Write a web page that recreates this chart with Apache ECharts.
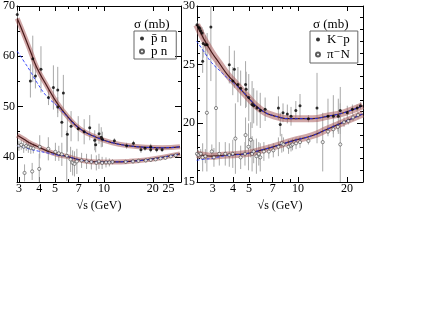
<!DOCTYPE html>
<html>
<head>
<meta charset="utf-8">
<script src="https://cdn.jsdelivr.net/npm/echarts@6/dist/echarts.min.js"></script>
<style>
html, body { margin: 0; padding: 0; background: #fff; }
#chart { width: 431px; height: 333px; }
</style>
</head>
<body>
<div id="chart"></div>
<script>
// [sqrt(s) GeV, sigma mb, error mb]
const pbarn = [
  [2.93, 68.3, 0.8], [3.53, 55.1, 3.3], [3.65, 59.5, 4.6], [3.79, 56.1, 2.5], [4.10, 57.4, 4.6],
  [4.56, 51.8, 1.5], [4.89, 53.8, 4.4], [5.20, 53.3, 4.6], [5.20, 49.9, 2.0], [5.51, 46.9, 3.0],
  [5.63, 52.7, 3.6], [5.96, 44.5, 3.5], [6.28, 46.1, 3.0], [6.95, 45.6, 2.5], [7.56, 45.0, 2.5],
  [8.18, 45.8, 2.5], [8.78, 43.3, 2.0], [8.90, 42.4, 1.5], [9.33, 44.6, 2.0], [9.63, 43.9, 2.0],
  [9.80, 43.5, 1.5], [11.6, 43.2, 0.5], [13.8, 42.2, 0.6], [15.2, 42.7, 0.5], [16.9, 41.4, 0.6],
  [17.9, 41.7, 0.5], [19.4, 42.0, 0.6], [19.4, 41.4, 0.5], [21.1, 41.4, 0.5], [22.8, 41.4, 0.4]
];
const pn = [
  [2.90, 42.7, 1.0], [3.00, 42.2, 1.0], [3.10, 42.4, 1.0], [3.21, 42.0, 1.2], [3.25, 36.8, 1.7],
  [3.33, 42.2, 1.0], [3.43, 42.0, 1.2], [3.55, 41.8, 1.2], [3.62, 37.1, 1.7], [3.68, 41.7, 1.0],
  [4.00, 37.6, 3.0], [4.03, 42.0, 2.3], [4.55, 41.6, 2.3], [5.03, 41.0, 1.8], [5.28, 40.7, 1.5],
  [5.51, 40.5, 2.3], [5.91, 40.2, 5.0], [6.24, 39.5, 2.5], [6.42, 38.8, 2.5], [6.59, 38.6, 2.5],
  [6.82, 39.1, 2.5], [7.29, 39.3, 1.5], [7.82, 39.1, 1.5], [8.37, 39.0, 1.5], [8.98, 38.8, 1.5],
  [9.32, 39.1, 1.5], [9.75, 38.8, 1.2], [10.3, 38.9, 1.0], [10.8, 38.9, 0.8], [11.3, 39.0, 0.5],
  [13.6, 39.0, 0.4], [15.1, 39.1, 0.4], [16.3, 39.2, 0.4], [18.1, 39.3, 0.4], [19.4, 39.4, 0.4],
  [20.8, 39.5, 0.3], [22.3, 39.7, 0.3], [23.9, 39.8, 0.3], [25.8, 40.1, 0.3], [27.6, 40.3, 0.3]
];
const kmp = [
  [2.40, 28.4, 0.3], [2.45, 28.2, 0.3], [2.49, 28.1, 0.3], [2.53, 27.9, 0.4], [2.58, 27.7, 0.5],
  [2.60, 25.3, 1.0], [2.62, 26.8, 1.2], [2.70, 26.7, 0.8], [2.77, 26.7, 1.0], [2.92, 28.2, 4.6],
  [3.79, 25.0, 1.6], [3.98, 23.6, 1.2], [4.07, 24.6, 1.6], [4.28, 23.3, 1.5], [4.45, 23.0, 1.5],
  [4.77, 23.3, 2.0], [4.81, 22.9, 1.5], [4.99, 22.2, 2.0], [5.23, 21.6, 2.0], [5.35, 21.5, 1.5],
  [5.60, 21.3, 1.5], [5.87, 21.1, 1.5], [6.29, 21.2, 1.0], [7.59, 21.3, 1.0], [7.79, 19.9, 1.0],
  [8.10, 20.9, 0.8], [8.61, 20.8, 0.8], [9.07, 20.6, 0.8], [9.71, 21.1, 0.8], [10.3, 21.5, 1.0],
  [11.6, 20.4, 0.3], [13.1, 21.3, 3.0], [15.3, 20.6, 1.5], [16.5, 20.6, 1.8], [17.7, 20.6, 1.5],
  [18.2, 21.1, 2.0], [20.1, 20.9, 0.6], [21.6, 21.2, 0.4], [23.1, 21.3, 0.3], [24.2, 21.5, 0.3]
];
const pimN = [
  [2.40, 17.4, 0.4], [2.45, 17.3, 0.4], [2.53, 17.4, 0.4], [2.60, 17.1, 1.2], [2.70, 17.2, 0.6],
  [2.76, 20.9, 5.0], [2.96, 17.6, 0.6], [3.05, 17.1, 0.8], [3.14, 21.3, 4.0], [3.29, 17.4, 1.0],
  [3.58, 17.4, 1.0], [3.79, 17.3, 1.0], [3.98, 17.4, 1.2], [4.13, 18.7, 3.0], [4.45, 17.1, 1.0],
  [4.73, 17.4, 1.0], [4.77, 19.0, 1.5], [4.97, 18.0, 2.0], [5.13, 18.6, 1.5], [5.23, 17.4, 1.5],
  [5.35, 17.6, 1.0], [5.56, 17.2, 1.5], [5.75, 17.4, 1.0], [5.87, 17.1, 1.2], [6.18, 17.6, 0.8],
  [6.63, 17.6, 0.6], [7.06, 17.7, 0.6], [7.59, 18.0, 0.8], [7.96, 18.3, 0.8], [8.15, 18.2, 0.6],
  [8.76, 18.0, 0.6], [9.07, 18.1, 0.5], [9.27, 18.2, 0.5], [9.74, 18.3, 0.5], [10.3, 18.4, 0.5],
  [11.6, 18.5, 0.3], [14.2, 18.4, 2.5], [15.3, 19.3, 0.4], [16.5, 19.5, 0.4], [17.6, 19.7, 0.4],
  [18.2, 18.2, 3.5], [19.2, 20.1, 0.4], [20.4, 20.2, 0.3], [21.8, 20.5, 0.3], [23.4, 20.7, 0.3]
];

// fitted curves: band centre and blue dashed curve, read at these sqrt(s)
const curveSL = [2.93, 3.22, 3.53, 3.87, 4.46, 5.13, 5.91, 7.11, 8.97, 11.3, 14.3, 18.1, 22.8, 29.4];
const pbarnFit = [67.5, 64.3, 61.0, 57.7, 54.1, 50.8, 48.2, 45.6, 43.9, 42.8, 42.2, 41.9, 41.8, 42.0];
const pbarnBlue = [61.0, 59.0, 57.0, 54.8, 52.0, 50.2, 48.1, 45.6, 43.9, 42.8, 42.2, 41.9, 41.8, 42.0];
const pnFit = [44.3, 43.5, 42.7, 42.1, 41.2, 40.5, 40.1, 39.4, 39.0, 39.0, 39.1, 39.4, 39.9, 40.6];
const pnBlue = [42.2, 41.9, 41.5, 41.2, 40.8, 40.4, 40.1, 39.4, 39.0, 39.0, 39.1, 39.4, 39.9, 40.6];

const curveSR = [2.39, 2.62, 2.94, 3.30, 3.67, 4.20, 4.73, 5.87, 7.30, 9.27, 12.3, 15.1, 19.1, 25.0];
const kmpFit = [28.4, 27.3, 26.1, 25.1, 24.2, 23.3, 22.5, 21.2, 20.6, 20.4, 20.4, 20.6, 20.9, 21.5];
const kmpBlue = [27.0, 26.2, 25.2, 24.5, 23.9, 23.2, 22.5, 21.2, 20.6, 20.4, 20.4, 20.6, 20.9, 21.5];
const pimNFit = [17.36, 17.28, 17.2, 17.25, 17.3, 17.35, 17.4, 17.7, 18.06, 18.5, 18.96, 19.5, 20.1, 20.8];
const pimNBlue = [16.85, 16.93, 17.0, 17.15, 17.25, 17.33, 17.4, 17.7, 18.06, 18.5, 18.96, 19.5, 20.1, 20.8];

// axis ticks
const xLabelsL = [3, 4, 5, 7, 10, 20, 25];
const xLabelsR = [3, 4, 5, 7, 10, 20];
const xMinor = [6, 8, 9];
const yMajorL = [40, 50, 60, 70];
const yMinorL = [35, 45, 55, 65];
const yMajorR = [15, 20, 25, 30];
const yMinorR = [16, 17, 18, 19, 21, 22, 23, 24, 26, 27, 28, 29];

const FONT = 'Liberation Serif, Times New Roman, DejaVu Serif, serif';
const lg = v => Math.log10(v);
const black = {color: '#000', width: 1};

function xAxes(gi, min, max, labels, minor) {
  const base = {type: 'value', gridIndex: gi, min: lg(min), max: lg(max), splitLine: {show: false}};
  const major = {show: true, inside: true, length: 5, customValues: labels.map(lg), lineStyle: black};
  const small = {show: true, inside: true, length: 3, customValues: minor.map(lg), lineStyle: black};
  return [
    Object.assign({}, base, {
      position: 'bottom', axisLine: {show: true, onZero: false, lineStyle: black}, axisTick: major,
      axisLabel: {customValues: labels.map(lg), formatter: v => String(Math.round(Math.pow(10, v))),
        margin: 1, fontFamily: FONT, fontSize: 12, color: '#000'},
      name: '√s (GeV)', nameLocation: 'middle', nameGap: 9,
      nameTextStyle: {fontFamily: FONT, fontSize: 12, color: '#000'}
    }),
    Object.assign({}, base, {position: 'bottom', axisLine: {show: false}, axisTick: small, axisLabel: {show: false}}),
    Object.assign({}, base, {position: 'top', axisLine: {show: true, onZero: false, lineStyle: black}, axisTick: major, axisLabel: {show: false}}),
    Object.assign({}, base, {position: 'top', axisLine: {show: false}, axisTick: small, axisLabel: {show: false}})
  ];
}

function yAxes(gi, min, max, labels, minor) {
  const base = {type: 'value', gridIndex: gi, min: min, max: max, splitLine: {show: false}};
  const major = {show: true, inside: true, length: 6, customValues: labels, lineStyle: black};
  const small = {show: true, inside: true, length: 3, customValues: minor, lineStyle: black};
  return [
    Object.assign({}, base, {
      position: 'left', axisLine: {show: true, onZero: false, lineStyle: black}, axisTick: major,
      axisLabel: {customValues: labels, margin: 2, fontFamily: FONT, fontSize: 12, color: '#000'}
    }),
    Object.assign({}, base, {position: 'left', axisLine: {show: false}, axisTick: small, axisLabel: {show: false}}),
    Object.assign({}, base, {position: 'right', axisLine: {show: true, onZero: false, lineStyle: black}, axisTick: major, axisLabel: {show: false}}),
    Object.assign({}, base, {position: 'right', axisLine: {show: false}, axisTick: small, axisLabel: {show: false}})
  ];
}

function errBars(data, gi) {
  return {
    type: 'custom', xAxisIndex: gi * 4, yAxisIndex: gi * 4, clip: true, silent: true, z: 1,
    data: data.map(d => [lg(d[0]), d[1], d[2]]),
    renderItem: function (params, api) {
      const x = api.value(0), y = api.value(1), e = api.value(2);
      const a = api.coord([x, y - e]), b = api.coord([x, y + e]);
      return {type: 'line', shape: {x1: a[0], y1: a[1], x2: b[0], y2: b[1]},
        style: {stroke: '#a8a8a8', lineWidth: 1}};
    }
  };
}

function curve(xs, ys, gi, style, z) {
  return {
    type: 'line', xAxisIndex: gi * 4, yAxisIndex: gi * 4, smooth: true, showSymbol: false,
    silent: true, z: z, data: xs.map((x, i) => [lg(x), ys[i]]), lineStyle: style
  };
}

function fitSet(xs, fit, blue, gi, bandW) {
  return [
    curve(xs, fit, gi, {color: 'rgba(170,95,95,0.55)', width: bandW}, 2),
    curve(xs, fit, gi, {color: '#4a1a1a', width: 1.2}, 3),
    curve(xs, blue, gi, {color: '#2233ff', width: 0.9, type: [3, 2]}, 4)
  ];
}

function points(name, data, gi, open) {
  return {
    name: name, type: 'scatter', xAxisIndex: gi * 4, yAxisIndex: gi * 4, z: 5,
    symbol: 'circle', symbolSize: open ? 3.2 : 3,
    itemStyle: open ? {color: '#fff', borderColor: '#333', borderWidth: 0.7} : {color: '#000'},
    data: data.map(d => [lg(d[0]), d[1]])
  };
}

const chart = echarts.init(document.getElementById('chart'), null, {renderer: 'canvas'});
chart.setOption({
  animation: false,
  backgroundColor: '#fff',
  grid: [
    {left: 15, top: 4, width: 166, height: 178},
    {left: 197, top: 4, width: 166, height: 178}
  ],
  xAxis: xAxes(0, 2.92, 29.8, xLabelsL, xMinor).concat(xAxes(1, 2.40, 25.1, xLabelsR, xMinor)),
  yAxis: yAxes(0, 35, 70, yMajorL, yMinorL).concat(yAxes(1, 15, 30, yMajorR, yMinorR)),
  title: [
    {text: 'σ (mb)', left: 134, top: 18, padding: 0,
      textStyle: {fontFamily: FONT, fontSize: 13, fontWeight: 'normal', color: '#000'}},
    {text: 'σ (mb)', left: 313, top: 18, padding: 0,
      textStyle: {fontFamily: FONT, fontSize: 13, fontWeight: 'normal', color: '#000'}}
  ],
  legend: [
    {data: ['p̄ n', 'p n'], left: 134, top: 31, orient: 'vertical', itemGap: 0,
      itemWidth: 8, itemHeight: 4, padding: [1, 9, 1, 5], borderColor: '#666', borderWidth: 1,
      textStyle: {fontFamily: FONT, fontSize: 13, color: '#000', lineHeight: 11}},
    {data: ['K⁻p', 'π⁻N'], left: 310, top: 31, orient: 'vertical', itemGap: 2,
      itemWidth: 8, itemHeight: 4, padding: [2, 8, 2, 5], borderColor: '#666', borderWidth: 1,
      textStyle: {fontFamily: FONT, fontSize: 13, color: '#000', lineHeight: 12}}
  ],
  series: [
    errBars(pbarn, 0), errBars(pn, 0),
    ...fitSet(curveSL, pbarnFit, pbarnBlue, 0, 5),
    ...fitSet(curveSL, pnFit, pnBlue, 0, 5),
    points('p̄ n', pbarn, 0, false), points('p n', pn, 0, true),
    errBars(kmp, 1), errBars(pimN, 1),
    ...fitSet(curveSR, kmpFit, kmpBlue, 1, 7),
    ...fitSet(curveSR, pimNFit, pimNBlue, 1, 7),
    points('K⁻p', kmp, 1, false), points('π⁻N', pimN, 1, true)
  ]
});
</script>
</body>
</html>
